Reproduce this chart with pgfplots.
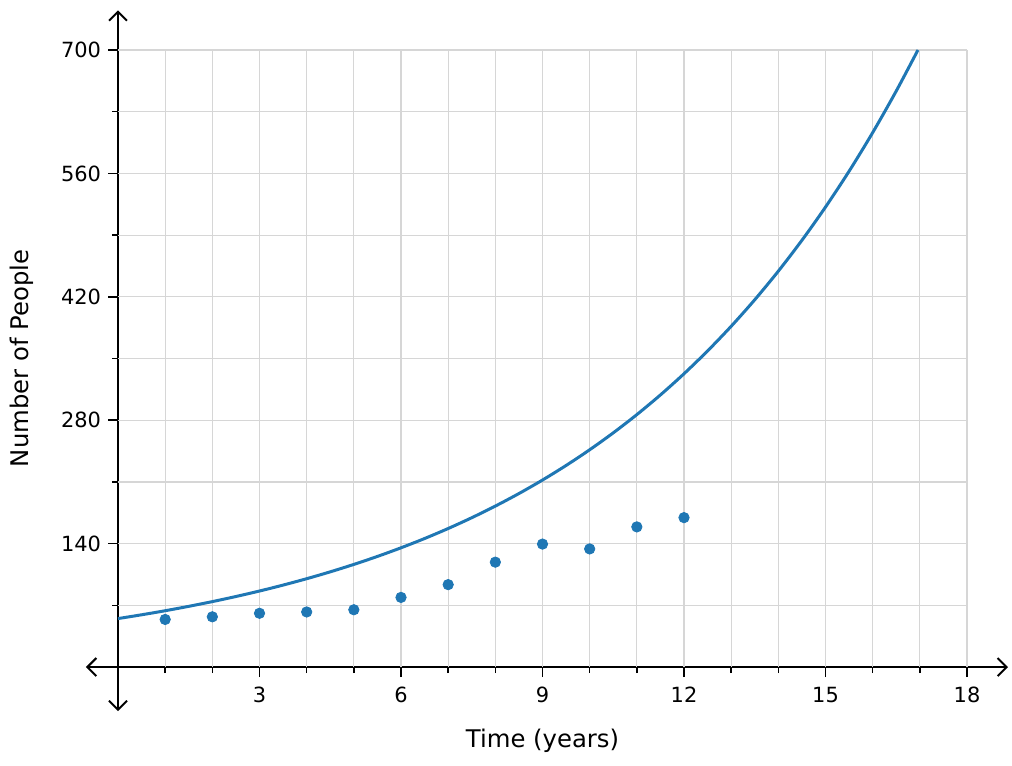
\documentclass[border=0pt]{standalone}
\usepackage{fontspec}
\setmainfont{DejaVu Sans}
\usepackage{pgfplots}
\pgfplotsset{compat=1.18}
\usetikzlibrary{arrows.meta}
\definecolor{tabblue}{HTML}{1F77B4}
\definecolor{gridgray}{gray}{0.84}
\newcommand{\tfont}{\fontsize{10.5}{12}\selectfont}
\begin{document}
\begin{tikzpicture}
\begin{axis}[
  scale only axis, width=461.05bp, height=350.4bp,
  xmin=-0.68, xmax=18.87, ymin=-50, ymax=745,
  axis lines=middle,
  axis line style={black, line width=1bp, {Straight Barb[length=4.5bp,width=9bp]}-{Straight Barb[length=4.5bp,width=9bp]}},
  xtick={3,6,...,18}, minor xtick={1,2,4,5,7,8,10,11,13,14,16,17},
  ytick={140,280,...,700}, minor ytick={70,210,350,490,630},
  tick align=outside,
  major tick length=5bp, minor tick length=3bp,
  every tick/.style={black, line width=0.8bp},
  xticklabel={\tfont\pgfmathprintnumber[assume math mode=true]{\tick}},
  yticklabel={\tfont\pgfmathprintnumber[assume math mode=true]{\tick}},
  xticklabel style={yshift=-1.5bp},
  /pgf/number format/assume math mode=true,
  clip=false,
]
\pgfplotsinvokeforeach{1,...,18}{\draw[gridgray, line width=0.6bp] (axis cs:#1,0) -- (axis cs:#1,700);}
\pgfplotsinvokeforeach{70,140,210,280,350,420,490,560,630,700}{\draw[gridgray, line width=0.6bp] (axis cs:0,#1) -- (axis cs:18,#1);}
\addplot[tabblue, line width=1.5bp, smooth] coordinates {
(0,55) (0.5,59.28) (1,63.90) (1.5,68.88) (2,74.24) (2.5,80.03) (3,86.26) (3.5,92.98)
(4,100.22) (4.5,108.02) (5,116.44) (5.5,125.50) (6,135.28) (6.5,145.81) (7,157.17)
(7.5,169.41) (8,182.61) (8.5,196.83) (9,212.16) (9.5,228.68) (10,246.49) (10.5,265.69)
(11,286.38) (11.5,308.69) (12,332.73) (12.5,358.64) (13,386.58) (13.5,416.69)
(14,449.14) (14.5,484.12) (15,521.83) (15.5,562.47) (16,606.28) (16.5,653.49) (16.96,700)
};
\addplot[only marks, mark=*, mark size=2.6bp, tabblue, mark options={draw=tabblue, fill=tabblue}] coordinates {
(1,54) (2,57) (3,61) (4,62.5) (5,65) (6,79) (7,93.5) (8,119) (9,139.5) (10,134) (11,159) (12,169.5)
};
\node[font=\fontsize{12.2}{14}\selectfont] at (axis cs:9,-84) {Time (years)};
\node[font=\fontsize{12.2}{14}\selectfont, rotate=90] at (axis cs:-2.035,350) {Number of People};
\path (axis cs:-2.502,-111.2) rectangle (axis cs:18.954,756.7);
\end{axis}
\end{tikzpicture}
\end{document}
